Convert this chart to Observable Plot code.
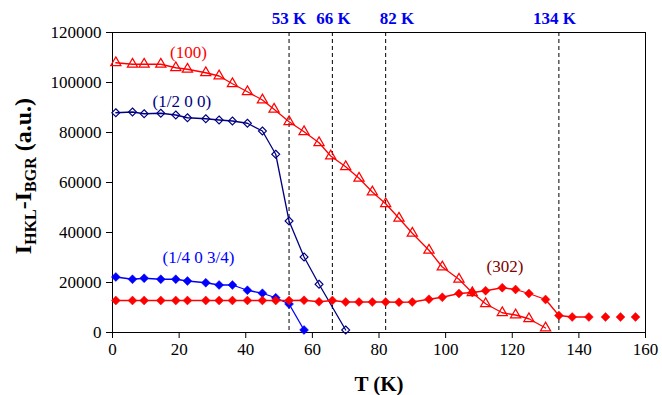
<!DOCTYPE html>
<html>
<head>
<meta charset="utf-8">
<script src="https://cdn.jsdelivr.net/npm/d3@7"></script>
<script src="https://cdn.jsdelivr.net/npm/@observablehq/plot@0.6"></script>
<style>
  body { margin: 0; background: #fff; }
  svg { display: block; }
</style>
</head>
<body>
<div id="chart"></div>
<script>
// ---- Data ----
const T100 = [1, 6, 9.5, 14.5, 19, 22.5, 28, 32, 36, 40.5, 45, 48.5, 53, 57.5, 62, 65.5, 70, 74, 78, 82, 86, 90, 95, 99, 104, 108, 112, 117, 121, 125, 130];
const I100 = [107900, 107300, 107300, 107300, 105900, 105300, 103900, 102600, 99500, 96300, 93000, 89300, 84300, 80300, 75900, 70600, 66300, 61700, 56200, 51500, 45700, 39700, 32900, 26200, 21300, 15900, 11500, 7900, 7000, 5500, 1800];

const THalf = [1, 6, 9.5, 14.5, 19, 22.5, 28, 32, 36, 40.5, 45, 49, 53, 57.5, 62, 70];
const IHalf = [87900, 88200, 87500, 87700, 87000, 85900, 85500, 85000, 84600, 83700, 80600, 71300, 44600, 30200, 19300, 1000];

const TQuarter = [1, 6, 9.5, 14.5, 19, 22.5, 28, 32, 36, 40.5, 45, 49, 53, 57.5];
const IQuarter = [22200, 21300, 21700, 21300, 21300, 20600, 19900, 19000, 19000, 16900, 15700, 13900, 11400, 1000];

const T302 = [1, 6, 9.5, 14.5, 19, 22.5, 28, 32, 36, 40.5, 45, 49, 53, 57.5, 62, 66, 70, 74, 78, 82, 86, 90, 95, 99, 104, 108, 112, 117, 121, 125, 130, 134, 138, 143, 148, 152.5, 157];
const I302 = [12800, 12800, 12800, 12800, 12800, 12800, 12800, 12800, 12800, 12800, 12800, 12800, 12800, 12900, 12300, 12800, 12200, 12200, 12200, 12200, 12100, 12200, 13300, 14100, 15600, 16000, 16700, 17900, 17200, 15600, 13200, 6800, 6200, 6200, 6200, 6200, 6200];
const T302LineEnd = 143; // line drawn only up to this temperature

const transitionT = [53, 66, 82, 134];
const transitionLabels = ["53 K", "66 K", "82 K", "134 K"];
const transitionLabelT = [53, 66.3, 85.4, 132.7];

const seriesLabels = ["(100)", "(1/2 0 0)", "(1/4 0 3/4)", "(302)"];
const seriesLabelT = [22.8, 20.8, 25.8, 117.8];
const seriesLabelI = [112000, 92200, 29900, 26300];
const seriesLabelColors = ["#ff0000", "#000080", "#0000ff", "#800000"];

const xTicks = [0, 20, 40, 60, 80, 100, 120, 140, 160];
const yTicks = [0, 20000, 40000, 60000, 80000, 100000, 120000];

const xTitle = "T (K)";

// ---- Build tables ----
const zip = (T, I) => T.map((t, i) => ({T: t, I: I[i]}));
const d100 = zip(T100, I100);
const dHalf = zip(THalf, IHalf);
const dQuarter = zip(TQuarter, IQuarter);
const d302 = zip(T302, I302);
const tLabels = transitionLabels.map((s, i) => ({s, T: transitionLabelT[i]}));
const sLabels = seriesLabels.map((s, i) => ({s, T: seriesLabelT[i], I: seriesLabelI[i], c: seriesLabelColors[i]}));

const serif = "'Liberation Serif', 'Times New Roman', serif";

const plot = Plot.plot({
  width: 662,
  height: 395,
  marginLeft: 112,
  marginRight: 17,
  marginTop: 32,
  marginBottom: 63,
  style: {fontFamily: serif, fontSize: "17px", color: "#000", background: "#fff", overflow: "visible"},
  x: {domain: [0, 160], ticks: xTicks, tickFormat: d => String(d), label: null, tickSize: 6, tickPadding: 4},
  y: {domain: [0, 120000], ticks: yTicks, tickFormat: d => String(d), label: null, tickSize: 6, tickPadding: 5},
  marks: [
    Plot.frame({stroke: "#000", strokeWidth: 1}),
    Plot.ruleX(transitionT, {stroke: "#000", strokeWidth: 1, strokeDasharray: "4,3"}),
    Plot.text(tLabels, {x: "T", y: 125600, text: "s", fill: "#0000f0", fontWeight: "bold", fontSize: 17, lineAnchor: "middle"}),

    Plot.line(d100, {x: "T", y: "I", stroke: "#ff0000", strokeWidth: 1.3}),
    Plot.dot(d100, {x: "T", y: "I", symbol: "triangle", r: 3.8, stroke: "#ff0000", strokeWidth: 1.2, fill: "none"}),

    Plot.line(dHalf, {x: "T", y: "I", stroke: "#000080", strokeWidth: 1.3}),
    Plot.dot(dHalf, {x: "T", y: "I", symbol: "diamond2", r: 3.6, stroke: "#000080", strokeWidth: 1.1, fill: "none"}),

    Plot.line(dQuarter, {x: "T", y: "I", stroke: "#0000ff", strokeWidth: 1.3}),
    Plot.dot(dQuarter, {x: "T", y: "I", symbol: "diamond2", r: 4, fill: "#0000ff", stroke: "#0000ff", strokeWidth: 0.5}),

    Plot.line(d302, {x: "T", y: "I", stroke: "#ff0000", strokeWidth: 1.3, filter: d => d.T <= T302LineEnd}),
    Plot.dot(d302, {x: "T", y: "I", symbol: "diamond2", r: 4, fill: "#ff0000", stroke: "#ff0000", strokeWidth: 0.5}),

    Plot.text(sLabels, {x: "T", y: "I", text: "s", fill: "c", fontSize: 17, lineAnchor: "middle"}),
    Plot.text([xTitle], {frameAnchor: "bottom", dy: 52, text: d => d, fontWeight: "bold", fontSize: 21, lineAnchor: "middle"})
  ]
});

// Y-axis title with subscripts
const svg = d3.select(plot);
const yt = svg.append("text")
  .attr("transform", "translate(31,176) rotate(-90)")
  .attr("text-anchor", "middle")
  .attr("font-family", serif)
  .attr("font-weight", "bold")
  .attr("font-size", 24)
  .attr("fill", "#000");
yt.append("tspan").text("I");
yt.append("tspan").attr("font-size", 16).attr("dy", 5).text("HKL");
yt.append("tspan").attr("dy", -5).text("-I");
yt.append("tspan").attr("font-size", 16).attr("dy", 5).text("BGR");
yt.append("tspan").attr("dy", -5).text(" (a.u.)");

document.getElementById("chart").appendChild(plot);
</script>
</body>
</html>
